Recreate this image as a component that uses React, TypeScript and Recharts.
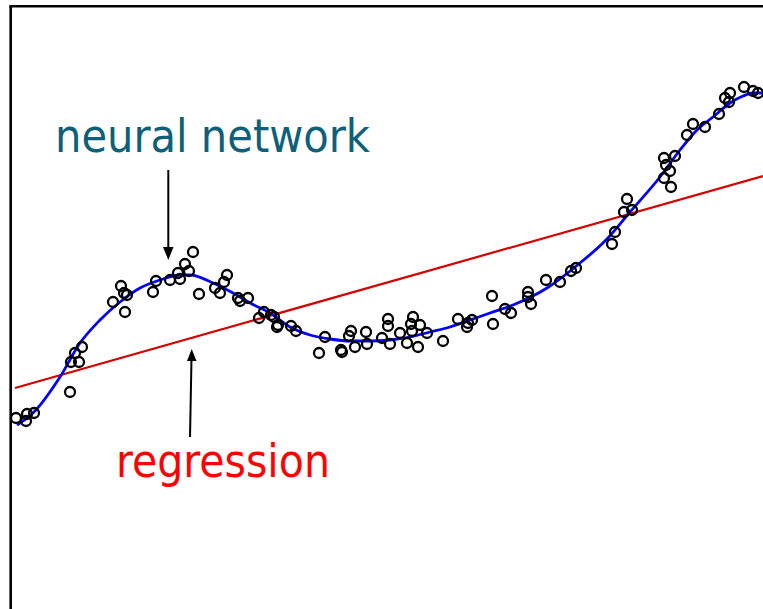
import { ComposedChart, Line, Scatter, XAxis, YAxis } from "recharts";

// observed samples (input, output)
const sampleX = [
  0.16, 0.26, 0.27, 0.34, 0.7, 0.71, 0.75, 0.79, 0.82, 1.13, 1.21, 1.24, 1.27, 1.25, 1.53, 1.56,
  1.7, 1.78, 1.8, 1.85, 1.89, 1.93, 1.99, 2.15, 2.2, 2.24, 2.27, 2.38, 2.4, 2.48, 2.59, 2.64,
  2.71, 2.74, 2.77, 2.78, 2.91, 2.96, 3.19, 3.25, 3.41, 3.42, 3.49, 3.51, 3.55, 3.66, 3.67, 3.82,
  3.88, 3.88, 3.9, 4.0, 4.07, 4.11, 4.13, 4.12, 4.18, 4.2, 4.27, 4.43, 4.58, 4.67, 4.68, 4.72,
  4.92, 4.93, 5.05, 5.11, 5.28, 5.28, 5.31, 5.46, 5.6, 5.71, 5.76, 6.12, 6.15, 6.27, 6.24, 6.32,
  6.64, 6.71, 6.7, 6.66, 6.64, 6.75, 6.87, 6.93, 7.05, 7.19, 7.25, 7.3, 7.29, 7.44, 7.53, 7.58,
];
const sampleY = [
  1.91, 1.88, 1.95, 1.96, 2.17, 2.47, 2.56, 2.47, 2.62, 3.07, 3.23, 3.16, 3.14, 2.97, 3.17, 3.28,
  3.29, 3.36, 3.3, 3.45, 3.38, 3.57, 3.15, 3.21, 3.16, 3.27, 3.34, 3.11, 3.08, 3.11, 2.91, 2.97,
  2.94, 2.92, 2.82, 2.84, 2.83, 2.78, 2.56, 2.72, 2.59, 2.57, 2.73, 2.78, 2.62, 2.77, 2.65, 2.71,
  2.9, 2.83, 2.65, 2.76, 2.66, 2.85, 2.92, 2.78, 2.62, 2.84, 2.76, 2.68, 2.9, 2.82, 2.86, 2.89,
  3.13, 2.85, 3.0, 2.96, 3.17, 3.12, 3.05, 3.29, 3.27, 3.38, 3.41, 3.65, 3.77, 4.1, 3.97, 3.99,
  4.31, 4.22, 4.38, 4.44, 4.51, 4.53, 4.74, 4.85, 4.82, 4.95, 5.11, 5.16, 5.07, 5.22, 5.18, 5.16,
];

// neural network fit
const netX = [
  0.17, 0.33, 0.6, 0.8, 1.0, 1.2, 1.4, 1.6, 1.8, 1.9, 2.13, 2.33, 2.52, 2.7, 2.9, 3.1, 3.3, 3.5,
  3.7, 3.9, 4.1, 4.3, 4.5, 4.7, 4.9, 5.13, 5.47, 5.8, 6.06, 6.3, 6.6, 6.8, 6.97, 7.13, 7.3, 7.43,
  7.53, 7.63,
];
const netY = [
  1.84, 1.96, 2.32, 2.66, 2.89, 3.07, 3.21, 3.29, 3.34, 3.34, 3.26, 3.16, 3.05, 2.96, 2.82, 2.74,
  2.7, 2.68, 2.68, 2.69, 2.72, 2.77, 2.82, 2.89, 2.96, 3.04, 3.21, 3.46, 3.69, 3.97, 4.32, 4.59,
  4.79, 4.92, 5.06, 5.13, 5.16, 5.16,
];

// linear regression fit
const regX = [0.15, 7.63];
const regY = [2.21, 4.33];

const samples = sampleX.map((x, i) => ({ x, y: sampleY[i] }));
const network = netX.map((x, i) => ({ x, y: netY[i] }));
const regression = regX.map((x, i) => ({ x, y: regY[i] }));

const Ring = (props: any) => (
  <circle cx={props.cx} cy={props.cy} r={5} fill="none" stroke="#000" strokeWidth={2.3} />
);

export default function App() {
  return (
    <div style={{ position: "absolute", left: 0, top: 0, width: 763, height: 609, background: "#fff", overflow: "hidden" }}>
      <ComposedChart width={763} height={609} margin={{ top: 0, right: 0, bottom: 0, left: 0 }}>
        <XAxis type="number" dataKey="x" domain={[0, 7.63]} hide height={0} allowDataOverflow />
        <YAxis type="number" dataKey="y" domain={[0, 6.09]} hide width={0} allowDataOverflow />
        <Line
          data={regression}
          dataKey="y"
          type="linear"
          stroke="#d40000"
          strokeWidth={2.2}
          dot={false}
          activeDot={false}
          legendType="none"
          isAnimationActive={false}
        />
        <Line
          data={network}
          dataKey="y"
          type="monotone"
          stroke="#0000ff"
          strokeWidth={2.8}
          dot={false}
          activeDot={false}
          legendType="none"
          isAnimationActive={false}
        />
        <Scatter data={samples} dataKey="y" shape={Ring} isAnimationActive={false} />
      </ComposedChart>

      <svg width={763} height={609} style={{ position: "absolute", left: 0, top: 0, pointerEvents: "none" }}>
        <line x1={10.7} y1={6} x2={10.7} y2={609} stroke="#000" strokeWidth={2.6} />
        <line x1={9.4} y1={6.2} x2={763} y2={6.2} stroke="#000" strokeWidth={2.4} />

        <text x={55} y={152} fontFamily="'DejaVu Sans Condensed', 'DejaVu Sans'" fontSize={46} fill="#0d6078" textLength={315} lengthAdjust="spacingAndGlyphs">
          neural network
        </text>
        <line x1={168.3} y1={170} x2={168.3} y2={250} stroke="#000" strokeWidth={2} />
        <polygon points="163,247 173.5,247 168.3,260" fill="#000" />

        <text x={116} y={477} fontFamily="'DejaVu Sans Condensed', 'DejaVu Sans'" fontSize={46} fill="#ff0000" textLength={214} lengthAdjust="spacingAndGlyphs">
          regression
        </text>
        <line x1={190} y1={437} x2={191.5} y2={358} stroke="#000" strokeWidth={2} />
        <polygon points="187,361 196.5,361 191.7,349" fill="#000" />
      </svg>
    </div>
  );
}
